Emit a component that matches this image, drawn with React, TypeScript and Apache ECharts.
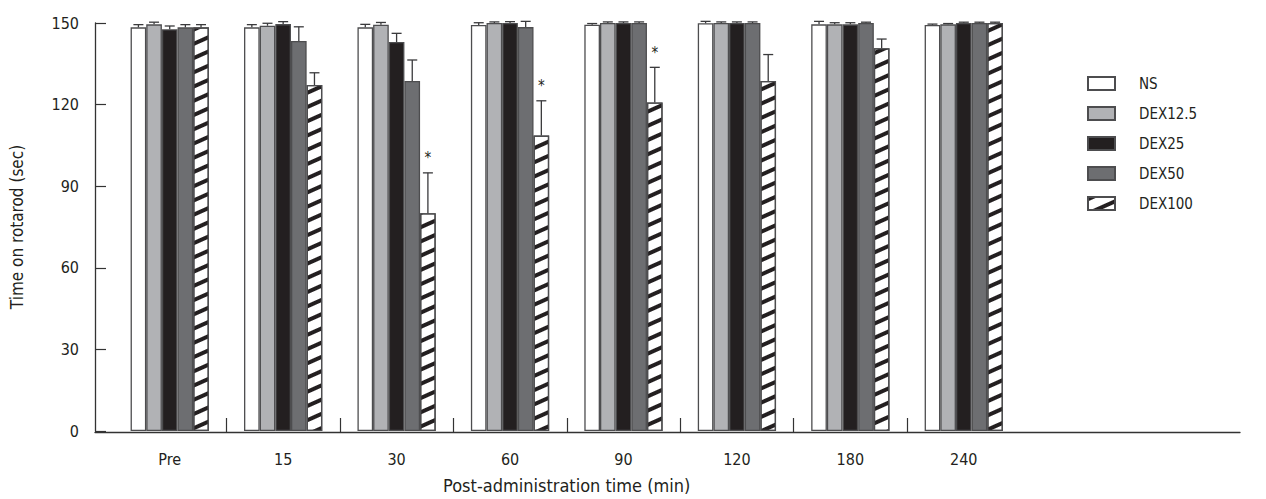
import React, { useEffect, useRef } from "react";
import * as echarts from "echarts";

const categories = ["Pre", "15", "30", "60", "90", "120", "180", "240"];
const seriesNames = ["NS", "DEX12.5", "DEX25", "DEX50", "DEX100"];

const ns = [148.4, 148.4, 148.4, 149.3, 149.4, 149.9, 149.5, 149.3];
const nsErr = [1.0, 1.0, 1.1, 0.8, 0.4, 0.7, 1.1, 0.3];
const dex12 = [149.5, 149.0, 149.4, 150, 150, 150, 149.5, 149.5];
const dex12Err = [0.8, 0.9, 0.8, 0.4, 0.4, 0.4, 0.6, 0.3];
const dex25 = [147.7, 149.6, 143.0, 150, 150, 150, 149.5, 150];
const dex25Err = [1.2, 0.9, 3.2, 0.5, 0.4, 0.4, 0.6, 0.3];
const dex50 = [148.4, 143.4, 128.7, 148.5, 150, 150, 150, 150];
const dex50Err = [1.0, 5.2, 7.7, 2.1, 0.4, 0.4, 0.3, 0.3];
const dex100 = [148.4, 127.2, 80.1, 108.6, 120.8, 128.7, 140.7, 150];
const dex100Err = [1.0, 4.5, 14.8, 12.8, 12.9, 9.7, 3.4, 0.3];
const dex100Sig = [0, 0, 1, 1, 1, 0, 0, 0];

const yTicks = [0, 30, 60, 90, 120, 150];

const FONT = '"Liberation Sans Narrow", "DejaVu Sans Condensed", "Arial Narrow", sans-serif';
const EDGE = "#4d4d4f";
const GAP = 0.31;

export default function App() {
  const ref = useRef<HTMLDivElement>(null);
  useEffect(() => {
    if (!ref.current) return;
    const chart = echarts.init(ref.current, null, { renderer: "svg" });
    const values = [ns, dex12, dex25, dex50, dex100];
    const errs = [nsErr, dex12Err, dex25Err, dex50Err, dex100Err];
    const sigs = [null, null, null, null, dex100Sig];
    const fills = ["#ffffff", "#b1b2b5", "#231f20", "#6d6e71", "#ffffff"];
    const errData: any[] = [];
    values.forEach((arr, s) => {
      arr.forEach((v, i) => {
        errData.push([i, v, errs[s][i], s, sigs[s] ? sigs[s]![i] : 0]);
      });
    });
    const bandW = 907.5 / categories.length;
    // boundaries between adjacent categories (for tick marks only)
    const boundaries = categories.slice(1).map((c, i) => categories[i] + "|" + c);
    const barSeries = seriesNames.map((name, s) => ({
      type: "bar",
      name,
      xAxisIndex: 0,
      yAxisIndex: 0,
      data: values[s],
      barGap: "0%",
      barCategoryGap: GAP * 100 + "%",
      itemStyle: {
        color: fills[s],
        borderColor: EDGE,
        borderWidth: 1.3,
        ...(s === 4
          ? {
              decal: {
                symbol: "rect",
                symbolSize: 1,
                dashArrayX: [1, 0],
                dashArrayY: [3.2, 9],
                rotation: -0.42,
                color: "#231f20",
                backgroundColor: "#ffffff",
              },
            }
          : {}),
      },
    }));
    const option: any = {
      animation: false,
      textStyle: { fontFamily: FONT },
      grid: [
        { left: 113, width: 907.5, top: 23, height: 409 },
        { left: 95, right: 26, top: 23, height: 409 },
        { left: 113 + bandW / 2, width: bandW * boundaries.length, top: 23, height: 409 },
      ],
      legend: {
        orient: "vertical",
        left: 1082,
        top: 71,
        icon: "rect",
        itemWidth: 27,
        itemHeight: 13,
        itemGap: 15,
        data: seriesNames,
        textStyle: { fontFamily: FONT, fontSize: 15, color: "#231f20", padding: [0, 0, 0, 19] },
      },
      xAxis: [
        {
          type: "category",
          gridIndex: 0,
          data: categories,
          axisLine: { show: false },
          axisTick: { show: false },
          axisLabel: { fontFamily: FONT, fontSize: 16, color: "#231f20", margin: 20 },
          name: "Post-administration time (min)",
          nameLocation: "middle",
          nameGap: 45,
          nameTextStyle: { fontFamily: FONT, fontSize: 18, color: "#231f20" },
        },
        {
          type: "value",
          gridIndex: 1,
          min: 0,
          max: 1,
          axisLine: { show: true, lineStyle: { color: "#333", width: 1.3 } },
          axisTick: { show: false },
          axisLabel: { show: false },
          splitLine: { show: false },
        },
        {
          type: "category",
          gridIndex: 2,
          data: boundaries,
          axisLine: { show: false },
          axisTick: {
            show: true,
            inside: true,
            alignWithLabel: true,
            length: 14,
            lineStyle: { color: "#333", width: 1.2 },
          },
          axisLabel: { show: false },
          splitLine: { show: false },
        },
      ],
      yAxis: [
        {
          type: "value",
          gridIndex: 0,
          min: 0,
          max: 150,
          interval: 30,
          offset: 18,
          axisLine: { show: true, lineStyle: { color: "#333", width: 1.3 } },
          axisTick: { show: true, inside: true, length: 11, lineStyle: { color: "#333", width: 1.2 } },
          axisLabel: {
            fontFamily: FONT,
            fontSize: 16,
            color: "#231f20",
            margin: 16,
            formatter: (v: number) => (yTicks.includes(v) ? String(v) : ""),
          },
          splitLine: { show: false },
          name: "Time on rotarod (sec)",
          nameLocation: "middle",
          nameGap: 70,
          nameRotate: 90,
          nameTextStyle: { fontFamily: FONT, fontSize: 17, color: "#231f20" },
        },
        { type: "value", gridIndex: 1, show: false, min: 0, max: 1 },
        { type: "value", gridIndex: 2, show: false, min: 0, max: 1 },
      ],
      series: [
        ...barSeries,
        {
          type: "custom",
          name: "err",
          xAxisIndex: 0,
          yAxisIndex: 0,
          z: 5,
          encode: { x: 0, y: 1 },
          data: errData,
          renderItem: (params: any, api: any) => {
            const ci = api.value(0);
            const v = api.value(1);
            const e = api.value(2);
            const si = api.value(3);
            const star = api.value(4);
            const base = api.coord([ci, v]);
            const band = api.size([1, 0])[0];
            const barW = (band * (1 - GAP)) / 5;
            const x = base[0] + (si - 2) * barW;
            const top = api.coord([ci, v + e])[1];
            const st = { stroke: "#3a3a3c", lineWidth: 1.3 };
            const children: any[] = [
              { type: "line", shape: { x1: x, y1: base[1], x2: x, y2: top }, style: st },
              { type: "line", shape: { x1: x - 5, y1: top, x2: x + 5, y2: top }, style: st },
            ];
            if (star) {
              children.push({
                type: "text",
                x: x,
                y: top - 7,
                style: {
                  text: "*",
                  fontSize: 15,
                  fontFamily: FONT,
                  fill: "#231f20",
                  align: "center",
                  verticalAlign: "bottom",
                },
              });
            }
            return { type: "group", children };
          },
        },
      ],
    };
    chart.setOption(option);
    return () => chart.dispose();
  }, []);
  return (
    <div
      ref={ref}
      style={{ position: "absolute", left: 0, top: 0, width: 1266, height: 499, background: "#fff" }}
    />
  );
}
